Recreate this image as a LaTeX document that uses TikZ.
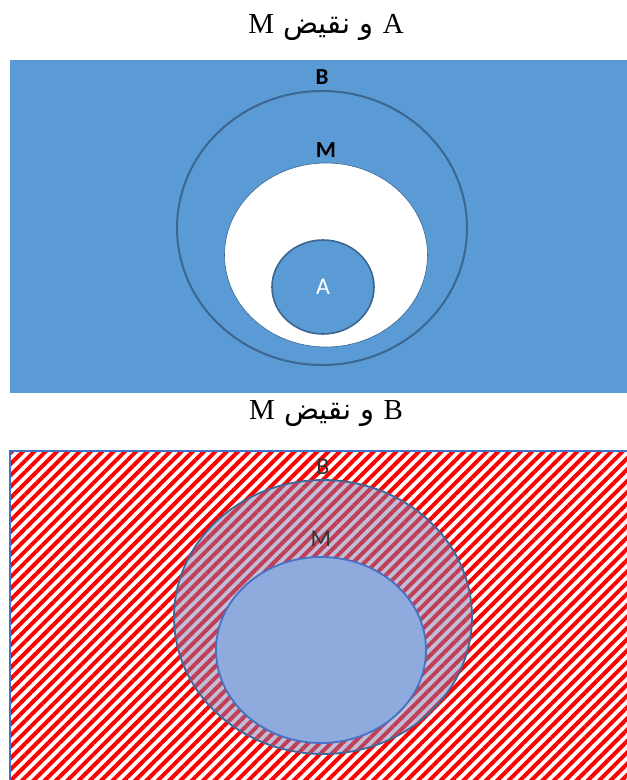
\documentclass[tikz,border=0pt]{standalone}
\usepackage{fontspec}
\setmainfont{Liberation Serif}
\setsansfont{Carlito}
\newfontfamily\arabicfont[Script=Arabic,Scale=1.0]{DejaVu Sans}
\TeXXeTstate=1
\usetikzlibrary{positioning,shapes.geometric,patterns.meta}
\definecolor{setblue}{HTML}{5B9BD5}
\definecolor{rimblue}{HTML}{3A6690}
\definecolor{lineblue}{HTML}{4472C4}
\definecolor{paleblue}{HTML}{8FAADC}
\definecolor{veilblue}{RGB}{130,125,175}
\tikzset{
  paneltitle/.style ={font=\fontsize{29}{32}\selectfont, inner sep=0pt},
  setname/.style ={font=\sffamily\fontsize{24}{27}\selectfont, inner sep=0pt},
  setring/.style ={ellipse, draw=rimblue, line width=2pt, inner sep=0pt},
  redstripes/.style ={pattern={Lines[angle=45,distance=8pt,line width=4pt]}, pattern color=red},
}

\begin{document}
\begin{tikzpicture}[x=1pt, y=-1pt]
\clip (0,0) rectangle (627,780);
\fill[white] (0,0) rectangle (627,780);
% upper panel
\node[paneltitle] (titleA) at (326,27) {\arabicfont\beginR {\rmfamily A} و نقيض {\rmfamily M}\endR};
\fill[setblue] (10,60) rectangle (627,393);
\node[setring, minimum width=290pt, minimum height=274pt] (bTop) at (322,228) {};
\node[ellipse, fill=white, draw=rimblue, line width=0.6pt, inner sep=0pt,
      minimum width=203pt, minimum height=184pt] (mTop) at (326,255) {};
\node[setring, line width=1.6pt, fill=setblue, minimum width=102pt, minimum height=94pt] (aTop) at (323,287) {};
\node[setname, white] (aLblTop) at (aTop) {A};
\node[setname, font=\sffamily\bfseries\fontsize{23}{26}\selectfont, above=5pt of bTop] (bLblTop) {B};
\node[setname, font=\sffamily\bfseries\fontsize{23}{26}\selectfont, above=5pt of mTop] (mLblTop) {M};
% lower panel
\node[paneltitle] (titleB) at (326,414) {\arabicfont\beginR {\rmfamily B} و نقيض {\rmfamily M}\endR};
\path[redstripes] (10,451) rectangle (640,790);
\draw[lineblue, line width=2pt] (10,790) -- (10,451) -- (640,451);
\node[ellipse, fill=veilblue, fill opacity=0.5, draw=rimblue!80!lineblue, line width=1.8pt, inner sep=0pt,
      minimum width=298pt, minimum height=274pt] (bBot) at (323,617) {};
\node[ellipse, fill=paleblue, draw=lineblue, line width=1.8pt, inner sep=0pt,
      minimum width=210pt, minimum height=186pt] (mBot) at (321,650) {};
\node[setname, black!80, above=4pt of bBot] (bLblBot) {B};
\node[setname, black!80, above=9pt of mBot] (mLblBot) {M};
\end{tikzpicture}
\end{document}
